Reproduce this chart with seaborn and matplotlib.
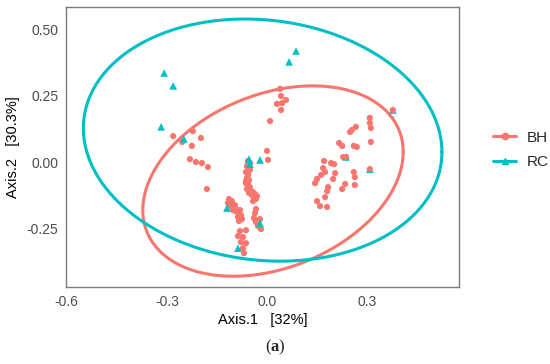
import numpy as np
import pandas as pd
import matplotlib
matplotlib.use("Agg")
import matplotlib.pyplot as plt
from matplotlib.lines import Line2D
import seaborn as sns

# PCoA scores
bh_x = [0.039, 0.042, 0.030, 0.045, 0.057, 0.042, 0.009, 0.000, 0.003,
        -0.281, -0.254, -0.222, -0.198, -0.225, -0.231, -0.213, -0.195, -0.177, -0.180,
        -0.057, -0.051, -0.060, -0.054, -0.063, -0.057, -0.060, -0.054, -0.063, -0.057,
        -0.060, -0.051, -0.048, -0.042, -0.036, -0.045, -0.039, -0.033, -0.042, -0.030,
        -0.054, -0.063, -0.051, -0.057,
        -0.114, -0.105, -0.117, -0.108, -0.096, -0.102, -0.090, -0.081, -0.078, -0.087,
        -0.075, -0.084, -0.093,
        -0.033, -0.036, -0.039, -0.033, -0.027, -0.018, -0.021,
        -0.081, -0.063, -0.087, -0.072, -0.078, -0.063, -0.072, -0.069,
        0.308, 0.308, 0.311, 0.311, 0.266, 0.254, 0.249, 0.216, 0.225, 0.260, 0.269,
        0.228, 0.171, 0.192, 0.201, 0.168, 0.174, 0.204, 0.162, 0.150, 0.144, 0.198,
        0.260, 0.263, 0.263, 0.234, 0.225, 0.183, 0.180, 0.174, 0.150, 0.159, 0.180,
        0.237, 0.308, 0.377]
bh_y = [0.277, 0.250, 0.220, 0.223, 0.235, 0.197, 0.155, 0.042, 0.008,
        0.098, 0.076, 0.117, 0.091, 0.061, 0.011, 0.000, -0.004, -0.019, -0.102,
        0.004, -0.004, -0.015, -0.027, -0.038, -0.049, -0.061, -0.068, -0.080, -0.091,
        -0.102, -0.095, -0.110, -0.114, -0.121, -0.125, -0.133, -0.140, -0.148, -0.129,
        -0.117, -0.072, -0.030, -0.083,
        -0.140, -0.148, -0.155, -0.167, -0.163, -0.182, -0.189, -0.182, -0.201, -0.208,
        -0.216, -0.223, -0.178,
        -0.178, -0.193, -0.212, -0.227, -0.242, -0.254, -0.216,
        -0.261, -0.258, -0.280, -0.284, -0.303, -0.307, -0.326, -0.345,
        0.167, 0.148, 0.129, 0.076, 0.133, 0.121, 0.114, 0.072, 0.061, 0.061, 0.057,
        0.019, 0.004, -0.004, -0.008, -0.023, -0.038, -0.042, -0.049, -0.064, -0.080, -0.064,
        -0.038, -0.057, -0.087, -0.083, -0.102, -0.095, -0.110, -0.133, -0.148, -0.167, -0.170,
        0.019, -0.027, 0.197]
n_bh_on_top = 3  # last BH points sit over RC triangles

rc_x = [-0.308, -0.281, -0.317, -0.249, -0.054, -0.051, -0.021, -0.120, -0.021,
        -0.087, 0.087, 0.066, 0.377, 0.237, 0.308]
rc_y = [0.337, 0.288, 0.133, 0.087, 0.011, -0.008, 0.008, -0.174, -0.231,
        -0.326, 0.420, 0.379, 0.197, 0.019, -0.027]

# 95% ellipses: centre, x-amplitude, y-amplitudes (cos, sin terms)
ell_bh = [0.018, -0.072, 0.390, 0.110, 0.343]
ell_rc = [-0.013, 0.083, 0.537, -0.045, 0.456]

groups = ["BH", "RC"]
colors = {"BH": "#F8766D", "RC": "#00BFC4"}

x_ticks = [-0.6, -0.3, 0.0, 0.3]
x_labels = ["-0.6", "-0.3", "0.0", "0.3"]
y_ticks = [-0.25, 0.0, 0.25, 0.50]
y_labels = ["-0.25", "0.00", "0.25", "0.50"]

bh = pd.DataFrame({"x": bh_x, "y": bh_y, "group": "BH"})
rc = pd.DataFrame({"x": rc_x, "y": rc_y, "group": "RC"})
df = pd.concat([bh.iloc[:-n_bh_on_top], rc, bh.iloc[-n_bh_on_top:]], ignore_index=True)

sns.set_style("white")
plt.rcParams["font.family"] = ["Liberation Sans", "DejaVu Sans"]
plt.rcParams["mathtext.fontset"] = "custom"
plt.rcParams["mathtext.rm"] = "Liberation Serif"
plt.rcParams["mathtext.bf"] = "Liberation Serif:bold"

fig = plt.figure(figsize=(5.5, 3.64), dpi=100)
ax = fig.add_axes([0.12, 0.2115, 0.7145, 0.7695])

t = np.linspace(0, 2 * np.pi, 300)
for g, e in zip(groups, [ell_bh, ell_rc]):
    ex = e[0] + e[2] * np.cos(t)
    ey = e[1] + e[3] * np.cos(t) + e[4] * np.sin(t)
    ax.plot(ex, ey, color=colors[g], lw=2.2, zorder=1)

sns.scatterplot(data=df, x="x", y="y", hue="group", style="group", size="group",
                palette=colors, markers={"BH": "o", "RC": "^"},
                sizes={"BH": 20, "RC": 30}, linewidth=0, legend=False,
                ax=ax, zorder=2)

ax.set_xlim(-0.602, 0.575)
ax.set_ylim(-0.473, 0.587)
ax.set_xticks(x_ticks)
ax.set_xticklabels(x_labels)
ax.set_yticks(y_ticks)
ax.set_yticklabels(y_labels)
ax.tick_params(length=0, pad=5.5, labelsize=10, labelcolor="#4d4d4d")
for s in ax.spines.values():
    s.set_color("#7a7a7a")
    s.set_linewidth(1)
ax.set_xlabel("Axis.1   [32%]", fontsize=10.5, color="black", labelpad=3)
ax.set_ylabel("Axis.2   [30.3%]", fontsize=10.5, color="black", labelpad=5)

handles = [Line2D([], [], color=colors["BH"], lw=2.2, marker="o", markersize=4.5),
           Line2D([], [], color=colors["RC"], lw=2.2, marker="^", markersize=5)]
fig.legend(handles, groups, loc="center left", bbox_to_anchor=(0.872, 0.588),
           frameon=False, fontsize=11, handlelength=1.5, handletextpad=0.7,
           labelspacing=0.7)

fig.text(0.5, 0.045, r"$\mathrm{(}\mathbf{a}\mathrm{)}$", fontsize=12,
         ha="center", va="center")

fig.savefig("out.png", dpi=100)
